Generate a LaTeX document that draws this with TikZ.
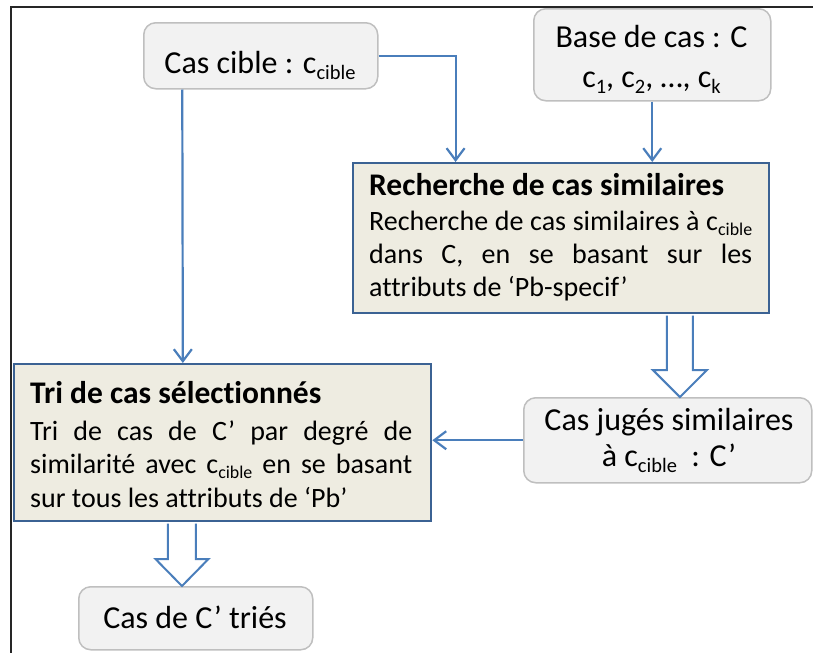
\documentclass[tikz,border=0pt]{standalone}
\usepackage{fontspec}
\setmainfont{Carlito}[Ligatures={NoCommon}]
\usetikzlibrary{arrows.meta,calc}
\definecolor{conncol}{HTML}{4A7EBB}
\definecolor{pborder}{HTML}{3B6293}
\definecolor{pfill}{HTML}{EEECE1}
\definecolor{rfill}{HTML}{F2F2F2}
\definecolor{rborder}{HTML}{BFBFBF}
\definecolor{framecol}{HTML}{262626}
\makeatletter
\newcommand\sub[1]{\raisebox{-0.2em}{\fontsize{\fpeval{0.64*\f@size}}{0}\selectfont #1}}
\makeatother
\begin{document}
\begin{tikzpicture}[x=1pt,y=-1pt,
  rbox/.style={draw=rborder, fill=rfill, line width=1.5pt, rounded corners=12pt, inner sep=0, anchor=north west},
  pbox/.style={draw=pborder, fill=pfill, line width=2.4pt, inner sep=0, anchor=north west},
  conn/.style={draw=conncol, line width=2.2pt, -{Straight Barb[length=12pt,width=18pt]}},
  hollow/.style={draw=conncol, fill=white, line width=2pt, line join=miter},
  bigtxt/.style={font=\fontsize{32}{38}\selectfont, inner sep=0, anchor=base},
  titletxt/.style={font=\fontsize{31.5}{38}\selectfont\bfseries, inner sep=0, anchor=base west},
  bodytxt/.style={font=\fontsize{28}{33}\selectfont, inner sep=0, anchor=base west}
]
\useasboundingbox (0,0) rectangle (813,653);
\draw[framecol, line width=1.5pt] (813,7) -- (11,7) -- (11,653);

% boxes
\node[rbox, minimum width=234pt, minimum height=66pt] (cible) at (143,22) {};
\node[rbox, minimum width=237pt, minimum height=92pt] (base) at (533,8) {};
\node[pbox, minimum width=416pt, minimum height=150pt] (rech) at (352,162) {};
\node[pbox, minimum width=417pt, minimum height=157pt] (tri) at (13,363) {};
\node[rbox, minimum width=288pt, minimum height=85pt] (jug) at (523,397) {};
\node[rbox, minimum width=234pt, minimum height=63pt] (tries) at (78,586) {};

% texts
\node[bigtxt] (cibletxt) at (260,73) {Cas cible : c\sub{cible}};
\node[bigtxt] (basetxta) at (651.5,47) {Base de cas : C};
\node[bigtxt] (basetxtb) at (651.5,87) {c\sub{1}, c\sub{2}, …, c\sub{k}};

\node[titletxt] (rechtitle) at (369,195) {Recherche de cas similaires};
\node[bodytxt] (rechl1) at (369,230) {\makebox[383pt][s]{Recherche de cas similaires à c\sub{cible}}};
\node[bodytxt] (rechl2) at (369,263) {\makebox[383pt][s]{dans C, en se basant sur les}};
\node[bodytxt] (rechl3) at (369,296) {attributs de ‘Pb-specif’};

\node[titletxt] (trititle) at (30,403) {Tri de cas sélectionnés};
\node[bodytxt] (tril1) at (30,440) {\makebox[382pt][s]{Tri de cas de C’ par degré de}};
\node[bodytxt] (tril2) at (30,473) {\makebox[382pt][s]{similarité avec c\sub{cible} en se basant}};
\node[bodytxt] (tril3) at (30,507) {sur tous les attributs de ‘Pb’};

\node[bigtxt] (jugtxta) at (669,430) {Cas jugés similaires};
\node[bigtxt] (jugtxtb) at (669,466) {à c\sub{cible}\ \ : C’};

\node[bigtxt] (triestxt) at (195,628) {Cas de C’ triés};

% connectors
\draw[conn] (cible.east) -| ($(rech.north west)!0.2476!(rech.north east)$);
\draw[conn] ($(cible.south west)!0.1667!(cible.south east)$) -- ($(tri.north west)!0.405!(tri.north east)$);
\draw[conn] (base.south) -- (base.south |- rech.north);
\draw[conn] (jug.west) -- (jug.west -| tri.east);

% hollow arrows
\coordinate (h1a) at ($(rech.south west)!0.7837!(rech.south east)+(0,1.3)$);
\coordinate (h1b) at (h1a |- jug.north);
\draw[hollow] ($(h1a)+(-13,0)$) -- ($(h1b)+(-13,-27)$) -- ($(h1b)+(-27,-27)$) -- (h1b) -- ($(h1b)+(27,-27)$) -- ($(h1b)+(13,-27)$) -- ($(h1a)+(13,0)$);

\coordinate (h2a) at ($(tri.south west)!0.4029!(tri.south east)+(0,1.3)$);
\coordinate (h2b) at (h2a |- tries.north);
\draw[hollow] ($(h2a)+(-14,0)$) -- ($(h2b)+(-14,-27)$) -- ($(h2b)+(-26.5,-27)$) -- (h2b) -- ($(h2b)+(26.5,-27)$) -- ($(h2b)+(14,-27)$) -- ($(h2a)+(14,0)$);
\end{tikzpicture}
\end{document}
